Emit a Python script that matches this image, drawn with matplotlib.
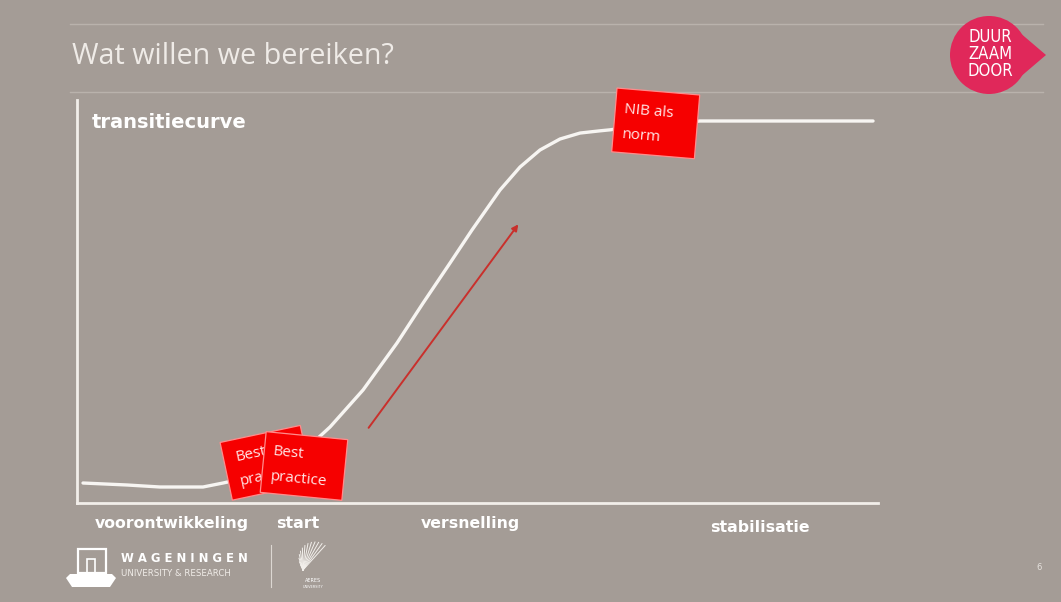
import numpy as np
import matplotlib.pyplot as plt
from matplotlib.patches import Polygon, Circle, Rectangle
import matplotlib.transforms as mtransforms

# transitiecurve (x: tijd 0-100, y: niveau 0-100)
curve_x = [0.75, 6.24, 10.36, 15.73, 18.23, 21.60, 25.34, 28.46, 31.59, 35.71, 39.95,
           43.20, 46.57, 49.31, 52.81, 55.31, 57.80, 60.30, 62.80, 65.29, 66.54,
           71.54, 77.78, 90.26, 99.38]
curve_y = [4.96, 4.47, 3.97, 3.97, 4.96, 6.45, 9.20, 13.15, 18.86, 28.04, 39.70,
           49.60, 59.55, 67.74, 77.67, 83.37, 87.59, 90.32, 91.80, 92.35, 92.60,
           93.90, 94.79, 94.79, 94.79]

# red arrow (start -> end)
arrow_start = (36.2, 18.1)
arrow_end = (55.3, 69.7)

phase_names = ['voorontwikkeling', 'start', 'versnelling', 'stabilisatie']
phase_x = [11.8, 27.5, 49.1, 85.2]
phase_y = [-0.05, -0.05, -0.05, -0.062]

note_texts = ['Best\npractice', 'Best\npractice', 'NIB als\nnorm']

BG = '#a49c96'
LIGHT = '#f2eeea'
W, H = 1061, 602

fig = plt.figure(figsize=(W / 100, H / 100), dpi=100)
fig.patch.set_facecolor(BG)

# chart area
ax = fig.add_axes([77 / W, 99 / H, 801 / W, 403 / H])
ax.set_facecolor('none')
ax.set_xlim(0, 100)
ax.set_ylim(0, 100)
for s in ['top', 'right']:
    ax.spines[s].set_visible(False)
for s in ['left', 'bottom']:
    ax.spines[s].set_color(LIGHT)
    ax.spines[s].set_linewidth(2)
ax.set_xticks([])
ax.set_yticks([])

ax.plot(curve_x, curve_y, color='#f7f5f2', lw=2.4, solid_capstyle='round', solid_joinstyle='round')
ax.annotate('', xy=arrow_end, xytext=arrow_start,
            arrowprops=dict(arrowstyle='-|>', color='#c9302c', lw=1.4, mutation_scale=9))

ax.text(0.019, 0.945, 'transitiecurve', transform=ax.transAxes, ha='left', va='center',
        fontsize=14, fontweight='bold', color='white', family='DejaVu Sans')

trans = mtransforms.blended_transform_factory(ax.transData, ax.transAxes)
for name, x, y in zip(phase_names, phase_x, phase_y):
    ax.text(x, y, name, transform=trans, ha='center', va='center', fontsize=11.3,
            fontweight='bold', color='white', family='DejaVu Sans')

# overlay in pixel coordinates for slide decorations and sticky notes
ov = fig.add_axes([0, 0, 1, 1], zorder=5)
ov.set_xlim(0, W)
ov.set_ylim(H, 0)
ov.axis('off')
ov.patch.set_alpha(0)

ov.plot([70, 1043], [24, 24], color='#b9b2ac', lw=1)
ov.plot([70, 1043], [92, 92], color='#b9b2ac', lw=1)
ov.text(72, 56, 'Wat willen we bereiken?', ha='left', va='center', fontsize=20.7,
        color='#efebe7', family='Open Sans')

# DUURZAAM DOOR logo
ov.add_patch(Polygon([(1005, 20), (1046, 55), (1005, 90)], closed=True, fc='#e0285a', ec='none', zorder=6))
ov.add_patch(Circle((989, 55), 39, fc='#e0285a', ec='none', zorder=6))
ov.text(990, 54, 'DUUR\nZAAM\nDOOR', ha='center', va='center', fontsize=12, color='white',
        family='DejaVu Sans', fontstretch='condensed', linespacing=0.92, zorder=7)


def note(cx, cy, w, h, ang, text, tx, ty, z):
    a = np.deg2rad(ang)
    u = np.array([np.cos(a), np.sin(a)])
    v = np.array([-np.sin(a), np.cos(a)])
    c = np.array([cx, cy])
    pts = [c - w / 2 * u - h / 2 * v, c + w / 2 * u - h / 2 * v,
           c + w / 2 * u + h / 2 * v, c - w / 2 * u + h / 2 * v]
    poly = Polygon(pts, closed=True, fc='#f60000', ec='#ff8c8c', lw=0.9, zorder=z)
    ov.add_patch(poly)
    tl = pts[0] + tx * u + ty * v
    t = ov.text(tl[0], tl[1], text, rotation=-ang, rotation_mode='anchor', ha='left', va='top',
                fontsize=11, color='#ffe6e6', family='Open Sans', linespacing=1.9, zorder=z + 0.1)
    t.set_clip_path(poly)


note(266.3, 462.8, 82, 59, -12, note_texts[0], 12, 10, 2)
note(304, 466, 82, 61, 5.6, note_texts[1], 9, 12, 3)
note(655.7, 123.4, 83, 64, 4.8, note_texts[2], 9, 13, 4)

# Wageningen logo
ov.add_patch(Rectangle((78, 549), 28, 24, fc='none', ec='white', lw=1.6))
ov.add_patch(Rectangle((87, 559), 8, 16, fc='none', ec='white', lw=1.2))
ov.add_patch(Polygon([(66, 578), (70, 574), (112, 574), (116, 578), (110, 587), (72, 587)],
                     closed=True, fc='white', ec='none'))
ov.text(121, 558, 'W A G E N I N G E N', ha='left', va='center', fontsize=8.4,
        color='white', family='DejaVu Sans', fontweight='bold')
ov.text(121, 573, 'UNIVERSITY & RESEARCH', ha='left', va='center', fontsize=6.2,
        color='#f0ece8', family='DejaVu Sans')
ov.plot([271, 271], [545, 587], color='#dcd7d2', lw=0.8)
for k in range(14):
    ang = np.deg2rad(140 + k * 13)
    ov.plot([303, 315 + 16 * np.cos(ang)],
            [570, 558 + 16 * np.sin(ang)], color='#f3f0ec', lw=0.7)
ov.text(313, 581, 'AERES', ha='center', va='center', fontsize=3.5, color='white')
ov.text(313, 587, 'UNIVERSITY', ha='center', va='center', fontsize=2.5, color='white')

ov.text(1039, 567, '6', ha='center', va='center', fontsize=6, color='#e6e2de')

fig.savefig('out.png', dpi=100, facecolor=BG)
